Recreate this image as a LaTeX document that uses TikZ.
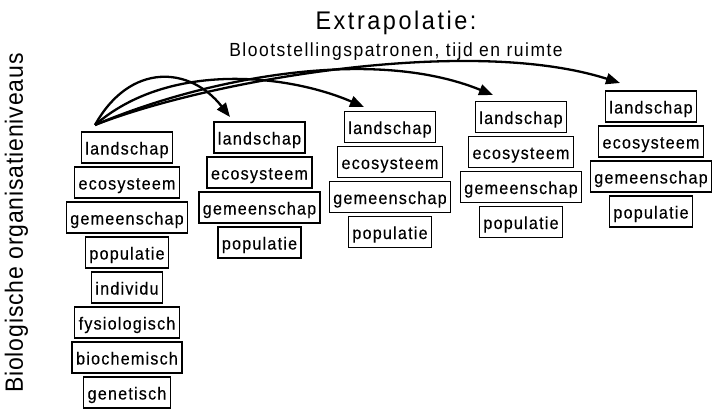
\documentclass[tikz,border=0pt]{standalone}
\usepackage{fontspec}
\setmainfont{Liberation Sans}
\newfontfamily\boxfont{Liberation Sans}[FakeStretch=0.92,LetterSpace=7,FakeBold=0.3]
\newfontfamily\titlefont{Liberation Sans}[FakeStretch=0.92,LetterSpace=10]
\newfontfamily\subfont{Liberation Sans}[FakeStretch=0.92,LetterSpace=8]
\newfontfamily\sidefont{Liberation Sans}[FakeStretch=0.92,LetterSpace=3.4]
\usetikzlibrary{arrows.meta}
\begin{document}
\begin{tikzpicture}[x=1pt,y=-1pt,
  lvl/.style={draw, line width=1.4pt, font={\boxfont\fontsize{17.5}{19}\selectfont},
    inner xsep=4pt, inner ysep=0pt, minimum height=31pt, text height=15pt, text depth=1pt},
  arr/.style={line width=2.3pt, -{Triangle[length=14pt,width=11pt]}}]
\useasboundingbox (0,0) rectangle (713,412);

% titles
\node[anchor=base, font={\titlefont\fontsize{25.5}{28}\selectfont}] (title) at (396,30) {Extrapolatie:};
\node[anchor=base, font={\subfont\fontsize{19}{22}\selectfont}] (sub) at (396,56.5) {Blootstellingspatronen, tijd en ruimte};
\node[anchor=base, rotate=90, font={\sidefont\fontsize{25}{28}\selectfont}] (side) at (23,223) {Biologische organisatieniveaus};

% column 1
\node[lvl] (a1) at (127,147.5) {landschap};
\node[lvl] (a2) at (127,182.5) {ecosysteem};
\node[lvl] (a3) at (127,217.5) {gemeenschap};
\node[lvl] (a4) at (127,252.5) {populatie};
\node[lvl] (a5) at (127,287.5) {individu};
\node[lvl] (a6) at (127,322.5) {fysiologisch};
\node[lvl] (a7) at (127,357.5) {biochemisch};
\node[lvl] (a8) at (127,392.5) {genetisch};

% column 2
\node[lvl] (b1) at (259.5,137.5) {landschap};
\node[lvl] (b2) at (259.5,172.5) {ecosysteem};
\node[lvl] (b3) at (259.5,207.5) {gemeenschap};
\node[lvl] (b4) at (259.5,242.5) {populatie};

% column 3
\node[lvl] (c1) at (390,127) {landschap};
\node[lvl] (c2) at (390,162) {ecosysteem};
\node[lvl] (c3) at (390,197) {gemeenschap};
\node[lvl] (c4) at (390,232) {populatie};

% column 4
\node[lvl] (d1) at (521,117) {landschap};
\node[lvl] (d2) at (521,152) {ecosysteem};
\node[lvl] (d3) at (521,187) {gemeenschap};
\node[lvl] (d4) at (521,222) {populatie};

% column 5
\node[lvl] (e1) at (651,106.5) {landschap};
\node[lvl] (e2) at (651,141.5) {ecosysteem};
\node[lvl] (e3) at (651,176.5) {gemeenschap};
\node[lvl] (e4) at (651,211.5) {populatie};

% arrows
\coordinate (s) at (95,125);
\coordinate (t2) at (230,117);
\coordinate (t3) at (364,107);
\coordinate (t4) at (493,95);
\coordinate (t5) at (620,83);
\draw[arr] (s) .. controls (130,62) and (190,66) .. (t2);
\draw[arr] (s) .. controls (170,60) and (290,75) .. (t3);
\draw[arr] (s) .. controls (200,80) and (370,45) .. (t4);
\draw[arr] (s) .. controls (210,80) and (470,35) .. (t5);
\end{tikzpicture}
\end{document}
